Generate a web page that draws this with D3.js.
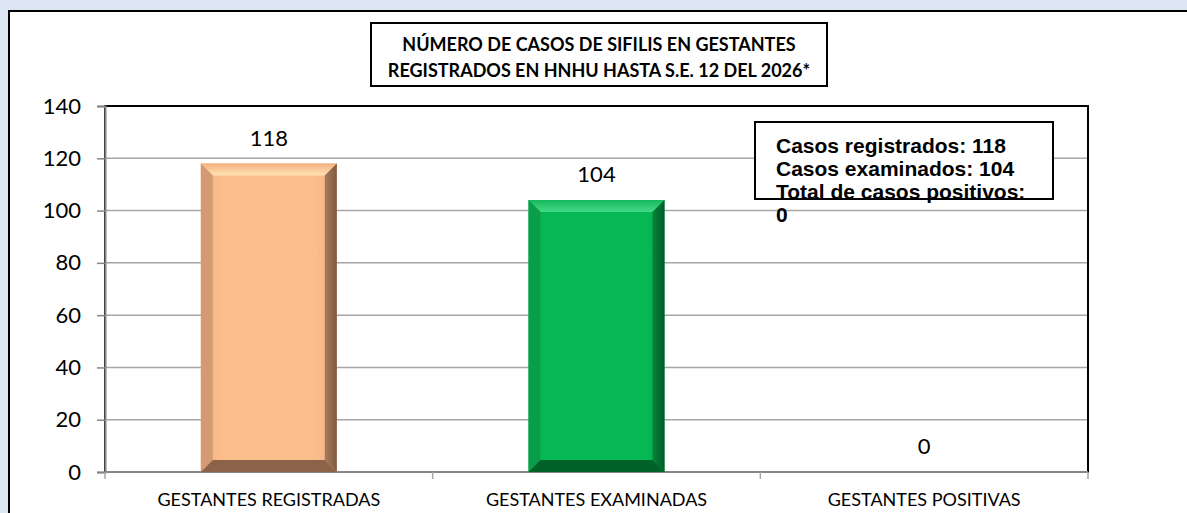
<!DOCTYPE html>
<html><head><meta charset="utf-8">
<script src="https://cdn.jsdelivr.net/npm/d3@7"></script>
<style>body{margin:0;background:#dce6f2;} svg{display:block;}</style>
</head><body>
<svg id="c" width="1187" height="513"></svg>
<script>
const categories = ["GESTANTES REGISTRADAS", "GESTANTES EXAMINADAS", "GESTANTES POSITIVAS"];
const values = [118, 104, 0];
const yTicks = [0, 20, 40, 60, 80, 100, 120, 140];
const titleLines = ["NÚMERO DE CASOS DE SIFILIS EN GESTANTES", "REGISTRADOS EN HNHU HASTA S.E. 12 DEL 2026*"];
const noteLines = ["Casos registrados: 118", "Casos examinados: 104", "Total de casos positivos:", "0"];
const palettes = [
  {face:"#fcbd8c", topOut:"#f3b07f", topIn:"#ffe3b4", left:"#d49b73", right:["#a87a5a","#7f5b41"], bottom:"#8a6348"},
  {face:"#07b955", topOut:"#16b95c", topIn:"#45d988", left:"#0a9e4b", right:["#03853b","#005a27"], bottom:"#006129"},
  {face:"#cccccc", topOut:"#ddd", topIn:"#eee", left:"#bbb", right:["#999","#777"], bottom:"#888"}
];

const svg = d3.select("#c");
const W = 1187, H = 513;
svg.append("rect").attr("width", W).attr("height", H).attr("fill", "#dce6f2");
svg.append("rect").attr("x", 9).attr("y", 11).attr("width", 1300).attr("height", 700)
  .attr("fill", "#fff").attr("stroke", "#000").attr("stroke-width", 2);

const m = {l:105, r:1088, t:106, b:472};
const x = d3.scaleBand().domain(categories).range([m.l, m.r]).paddingInner(0).paddingOuter(0);
const y = d3.scaleLinear().domain([0, 140]).range([m.b, m.t]);

// gridlines
svg.append("g").selectAll("line").data(yTicks.filter(d => d > 0 && d < 140)).join("line")
  .attr("x1", m.l).attr("x2", m.r).attr("y1", d => y(d)).attr("y2", d => y(d))
  .attr("stroke", "#a6a6a6").attr("stroke-width", 1.5);

// plot border
svg.append("rect").attr("x", m.l).attr("y", m.t).attr("width", m.r - m.l).attr("height", m.b - m.t)
  .attr("fill", "none").attr("stroke", "#000").attr("stroke-width", 2);

// y axis
const yAxis = d3.axisLeft(y).tickValues(yTicks).tickSize(8).tickPadding(16);
const gy = svg.append("g").attr("transform", `translate(${m.l},0)`).call(yAxis);
gy.select(".domain").attr("stroke", "#868686").attr("stroke-width", 2);
gy.selectAll(".tick line").attr("stroke", "#868686").attr("stroke-width", 1.5);
gy.selectAll(".tick text").attr("font-family", "Lato").attr("font-size", 22).attr("fill", "#000");

// x axis line + ticks at boundaries
const bounds = categories.map(c => x(c)).concat([m.r]);
svg.append("line").attr("x1", m.l).attr("x2", m.r).attr("y1", m.b).attr("y2", m.b)
  .attr("stroke", "#868686").attr("stroke-width", 2);
svg.append("g").selectAll("line").data(bounds).join("line")
  .attr("x1", d => d).attr("x2", d => d).attr("y1", m.b).attr("y2", m.b + 7)
  .attr("stroke", "#a6a6a6").attr("stroke-width", 1.5);
svg.append("g").selectAll("text").data(categories).join("text")
  .attr("x", d => x(d) + x.bandwidth() / 2).attr("y", 506)
  .attr("text-anchor", "middle").attr("font-family", "Lato").attr("font-size", 18).attr("fill", "#000")
  .text(d => d);

// defs
const defs = svg.append("defs");
palettes.forEach((p, i) => {
  const gT = defs.append("linearGradient").attr("id", "top" + i).attr("x1", 0).attr("y1", 0).attr("x2", 0).attr("y2", 1);
  gT.append("stop").attr("offset", 0).attr("stop-color", p.topOut);
  gT.append("stop").attr("offset", 1).attr("stop-color", p.topIn);
  const gR = defs.append("linearGradient").attr("id", "right" + i).attr("x1", 0).attr("y1", 0).attr("x2", 1).attr("y2", 0);
  gR.append("stop").attr("offset", 0).attr("stop-color", p.right[0]);
  gR.append("stop").attr("offset", 1).attr("stop-color", p.right[1]);
  const gF = defs.append("linearGradient").attr("id", "face" + i).attr("x1", 0).attr("y1", 0).attr("x2", 1).attr("y2", 0);
  gF.append("stop").attr("offset", 0).attr("stop-color", d3.color(p.face).darker(0.15));
  gF.append("stop").attr("offset", 0.15).attr("stop-color", p.face);
  gF.append("stop").attr("offset", 0.85).attr("stop-color", p.face);
  gF.append("stop").attr("offset", 1).attr("stop-color", d3.color(p.face).darker(0.25));
});

// bars with bevel
const barFrac = 0.415, bev = 12;
const bars = svg.append("g");
categories.forEach((c, i) => {
  const v = values[i];
  if (v <= 0) return;
  const w = x.bandwidth() * barFrac;
  const bx = x(c) + (x.bandwidth() - w) / 2;
  const by = y(v), bh = y(0) - y(v);
  const p = palettes[i];
  const g = bars.append("g");
  const poly = (pts, fill) => g.append("polygon").attr("points", pts.map(q => q.join(",")).join(" ")).attr("fill", fill);
  poly([[bx,by],[bx+w,by],[bx+w,by+bh],[bx,by+bh]], `url(#face${i})`);
  poly([[bx,by],[bx+w,by],[bx+w-bev,by+bev],[bx+bev,by+bev]], `url(#top${i})`);
  poly([[bx,by],[bx+bev,by+bev],[bx+bev,by+bh-bev],[bx,by+bh]], p.left);
  poly([[bx+w,by],[bx+w,by+bh],[bx+w-bev,by+bh-bev],[bx+w-bev,by+bev]], `url(#right${i})`);
  poly([[bx,by+bh],[bx+bev,by+bh-bev],[bx+w-bev,by+bh-bev],[bx+w,by+bh]], p.bottom);
});

// value labels
svg.append("g").selectAll("text").data(values).join("text")
  .attr("x", (d, i) => x(categories[i]) + x.bandwidth() / 2).attr("y", d => y(d) - 18)
  .attr("text-anchor", "middle").attr("font-family", "Lato").attr("font-size", 22).attr("fill", "#000")
  .text(d => d);

// title box
svg.append("rect").attr("x", 371).attr("y", 23).attr("width", 456).attr("height", 63)
  .attr("fill", "#fff").attr("stroke", "#000").attr("stroke-width", 2);
svg.append("g").selectAll("text").data(titleLines).join("text")
  .attr("x", 599).attr("y", (d, i) => 51 + i * 26)
  .attr("text-anchor", "middle").attr("font-family", "Lato").attr("font-weight", "bold").attr("font-size", 18).attr("fill", "#000")
  .text(d => d);

// note box
svg.append("rect").attr("x", 755).attr("y", 122).attr("width", 298).attr("height", 77)
  .attr("fill", "#fff").attr("stroke", "#000").attr("stroke-width", 2);
svg.append("g").selectAll("text").data(noteLines).join("text")
  .attr("x", 776).attr("y", (d, i) => 153 + i * 23)
  .attr("font-family", "Liberation Sans, Arial").attr("font-weight", "bold").attr("font-size", 21).attr("fill", "#000")
  .text(d => d);
</script>
</body></html>
